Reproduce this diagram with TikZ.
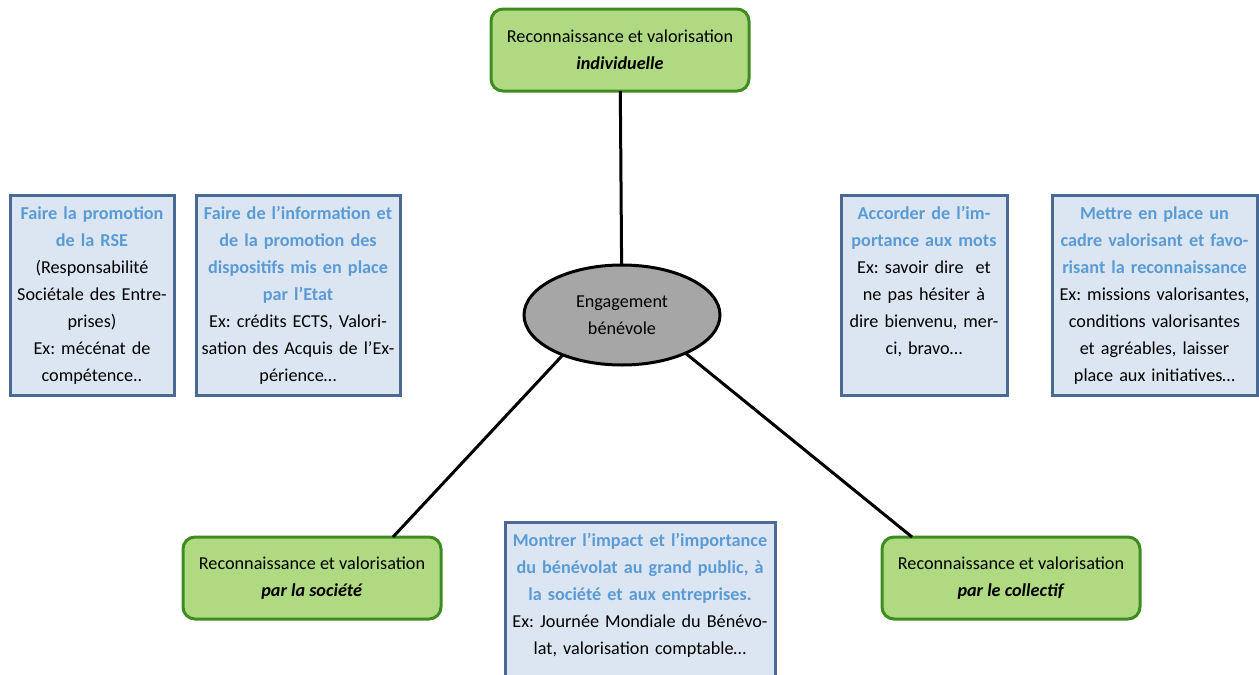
\documentclass[tikz,border=0pt]{standalone}
\usepackage{fontspec}
\setmainfont{Carlito}
\frenchspacing
\usetikzlibrary{shapes.geometric}
\definecolor{leafgreen}{RGB}{176,218,130}
\definecolor{leafline}{RGB}{62,140,32}
\definecolor{tipfill}{RGB}{220,230,242}
\definecolor{tipline}{RGB}{74,106,148}
\definecolor{tipblue}{RGB}{91,155,213}
\definecolor{hubgray}{RGB}{166,166,166}
\newcommand\tiptitle[1]{{\color{tipblue}\bfseries #1}}
\tikzset{%
  greenbox/.style = {shape=rectangle, rounded corners=12pt, draw=leafline,%
                     line width=3pt, fill=leafgreen, align=center,%
                     minimum width=258pt, minimum height=82pt},%
  tipbox/.style   = {shape=rectangle, draw=tipline, line width=3pt,%
                     fill=tipfill, align=center, anchor=north west,%
                     inner xsep=2pt, inner ysep=6pt,%
                     text height=18pt, text depth=170pt},%
  hub/.style      = {ellipse, draw, line width=3pt, fill=hubgray, align=center,%
                     minimum width=196pt, minimum height=100pt},%
  link/.style     = {line width=3pt}%
}

\begin{document}
\begin{tikzpicture}[x=1pt,y=-1pt,every node/.style={font=\fontsize{18.2}{27}\selectfont, outer sep=0pt}]
	\useasboundingbox (0,0) rectangle (1259,675);
	\node [hub] (centre) at (622,315) {Engagement\\bénévole};
	\node [greenbox] (indiv) at (620,50) {Reconnaissance et valorisation\\\textbf{\textit{individuelle}}};
	\node [greenbox] (societe) at (312,578) {Reconnaissance et valorisation\\\textbf{\textit{par la société}}};
	\node [greenbox] (collectif) at (1011,578) {Reconnaissance et valorisation\\\textbf{\textit{par le collectif}}};
	\node [tipbox, text width=160pt] (rse) at (10,195) {\tiptitle{Faire la promotion\\de la RSE}\\(Responsabilité\\Sociétale des Entre-\\prises)\\Ex: mécénat de\\compétence..};
	\node [tipbox, text width=200pt] (etat) at (196,195) {\tiptitle{Faire de l’information et\\de la promotion des\\dispositifs mis en place\\par l’Etat}\\Ex: crédits ECTS, Valori-\\sation des Acquis de l’Ex-\\périence…};
	\node [tipbox, text width=162pt] (mots) at (841,195) {\tiptitle{Accorder de l’im-\\portance aux mots}\\Ex: savoir dire~ et\\ne pas hésiter à\\dire bienvenu, mer-\\ci, bravo…};
	\node [tipbox, text width=201pt] (cadre) at (1052,195) {\tiptitle{Mettre en place un\\cadre valorisant et favo-\\risant la reconnaissance}\\Ex: missions valorisantes,\\conditions valorisantes\\et agréables, laisser\\place aux initiatives…};
	\node [tipbox, text width=266pt, text depth=140pt] (impact) at (505,522) {\tiptitle{Montrer l’impact et l’importance\\du bénévolat au grand public, à\\la société et aux entreprises.}\\Ex: Journée Mondiale du Bénévo-\\lat, valorisation comptable…};
	\draw [link] (indiv) -- (centre);
	\draw [link] (centre.214) -- ([xshift=81pt]societe.north);
	\draw [link] (centre.329) -- ([xshift=-99pt]collectif.north);
\end{tikzpicture}
\end{document}
